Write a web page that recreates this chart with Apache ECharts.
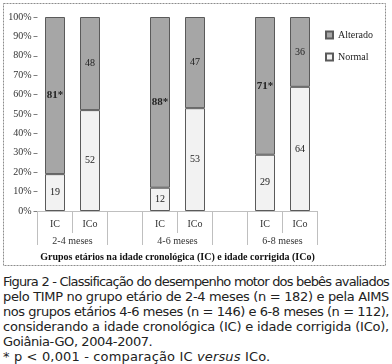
<!DOCTYPE html>
<html>
<head>
<meta charset="utf-8">
<script src="https://cdn.jsdelivr.net/npm/echarts@6/dist/echarts.min.js"></script>
<style>
html,body{margin:0;padding:0;background:#fff;}
#wrap{position:relative;width:392px;height:364px;overflow:hidden;}
#chart{position:absolute;left:0;top:0;width:392px;height:268px;}
#cap{position:absolute;left:3px;top:274px;width:386px;font-family:"DejaVu Sans",Verdana,sans-serif;font-size:13px;line-height:15px;color:#222;}
#cap div{white-space:nowrap;height:15px;}
#cap .j{text-align:justify;text-align-last:justify;}
#cap .l5{letter-spacing:-0.4px;}
#cap .l6{letter-spacing:0.15px;}
</style>
</head>
<body>
<div id="wrap">
<div id="chart"></div>
<div id="cap">
<div class="j">Figura 2 - Classificação do desempenho motor dos bebês avaliados</div>
<div class="j">pelo TIMP no grupo etário de 2-4 meses (n = 182) e pela AIMS</div>
<div class="j">nos grupos etários 4-6 meses (n = 146) e 6-8 meses (n = 112),</div>
<div class="j">considerando a idade cronológica (IC) e idade corrigida (ICo),</div>
<div class="l5">Goiânia-GO, 2004-2007.</div>
<div class="l6">* p &lt; 0,001 - comparação IC <i>versus</i> ICo.</div>
</div>
</div>
<script>
const categories = ['IC', 'ICo', '', 'IC', 'ICo', '', 'IC', 'ICo'];
const groupLabels = ['', '2-4 meses', '', '', '4-6 meses', '', '', '6-8 meses', ''];
const groupBoundaries = [0, 2, 3, 5, 6, 8];
const normalValues = [19, 52, null, 12, 53, null, 29, 64];
const alteradoValues = [81, 48, null, 88, 47, null, 71, 36];
const starred = [true, false, false, true, false, false, true, false];
const yTicks = [0, 10, 20, 30, 40, 50, 60, 70, 80, 90, 100];
const axisTitle = 'Grupos etários na idade cronológica (IC) e idade corrigida (ICo)';

// shrink justified caption lines only if they would overflow
(function fitCaption(){
  const cap = document.getElementById('cap');
  cap.querySelectorAll('.j').forEach(l => {
    const span = document.createElement('span');
    span.style.whiteSpace = 'nowrap';
    while (l.firstChild) span.appendChild(l.firstChild);
    l.appendChild(span);
    const w = span.getBoundingClientRect().width;
    if (w > 385) l.style.letterSpacing = ((385 - w) / l.textContent.length).toFixed(3) + 'px';
  });
})();

const serif = '"Liberation Serif","Times New Roman",serif';
const chart = echarts.init(document.getElementById('chart'), null, {renderer: 'canvas'});

const alteradoData = alteradoValues.map((v, i) => ({
  value: v,
  label: starred[i] ? {fontWeight: 'bold', fontSize: 11, formatter: '{c}*'} : {}
}));

chart.setOption({
  animation: false,
  graphic: [{
    type: 'rect', shape: {x: 3.5, y: 3.5, width: 382, height: 262},
    style: {fill: 'none', stroke: '#8c8c8c', lineWidth: 1, lineDash: [2, 1]}
  }],
  legend: {
    orient: 'vertical', left: 320, top: 25, itemWidth: 7, itemHeight: 7, itemGap: 12,
    data: ['Alterado', 'Normal'],
    textStyle: {fontFamily: serif, fontSize: 10, color: '#222'},
    icon: 'rect'
  },
  grid: {left: 37.5, top: 17, width: 280, height: 194, containLabel: false},
  yAxis: {
    type: 'value', min: yTicks[0], max: yTicks[yTicks.length - 1], interval: 10,
    axisLine: {show: false},
    axisTick: {show: true, length: 4, lineStyle: {color: '#808080'}},
    splitLine: {show: false},
    axisLabel: {formatter: '{value}%', fontFamily: serif, fontSize: 10, color: '#333', margin: 6}
  },
  xAxis: [{
    type: 'category', data: categories, position: 'bottom',
    axisLine: {show: true, lineStyle: {color: '#bfbfbf'}},
    axisTick: {show: true, interval: 0, length: 22, lineStyle: {color: '#bfbfbf'}},
    axisLabel: {interval: 0, fontFamily: serif, fontSize: 10, color: '#333', margin: 8}
  }, {
    type: 'category', data: groupLabels, position: 'bottom', boundaryGap: false,
    axisLine: {show: false},
    axisTick: {show: true, length: 34, interval: (i) => groupBoundaries.includes(i), lineStyle: {color: '#bfbfbf'}},
    axisLabel: {interval: 0, fontFamily: serif, fontSize: 10, color: '#333', margin: 25},
    name: axisTitle, nameLocation: 'middle', nameGap: 41,
    nameTextStyle: {fontFamily: serif, fontSize: 10, fontWeight: 'bold', color: '#111'}
  }],
  series: [{
    name: 'Normal', type: 'bar', stack: 'a', xAxisIndex: 0, barWidth: 20,
    data: normalValues,
    itemStyle: {color: '#f2f2f2', borderColor: '#5a5a5a', borderWidth: 1},
    label: {show: true, position: 'inside', fontFamily: serif, fontSize: 10, color: '#222'}
  }, {
    name: 'Alterado', type: 'bar', stack: 'a', xAxisIndex: 0, barWidth: 20,
    data: alteradoData,
    itemStyle: {color: '#a6a6a6', borderColor: '#5a5a5a', borderWidth: 1},
    label: {show: true, position: 'inside', fontFamily: serif, fontSize: 10, color: '#222'}
  }]
});
</script>
</body>
</html>
